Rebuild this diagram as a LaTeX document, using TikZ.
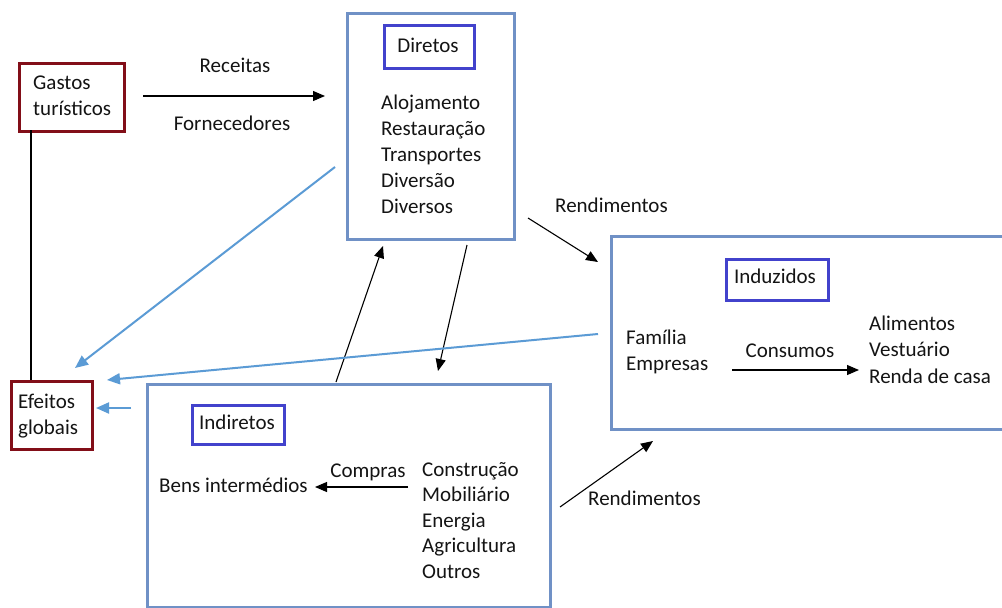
\documentclass[tikz,border=0pt]{standalone}
\usepackage{fontspec}
\setmainfont{Carlito}
\usetikzlibrary{arrows.meta}
\definecolor{boxblue}{RGB}{112,145,198}
\definecolor{titleblue}{RGB}{66,66,204}
\definecolor{darkred}{RGB}{130,14,24}
\definecolor{arrowblue}{RGB}{91,155,213}
\definecolor{txt}{RGB}{20,20,20}
\begin{document}
\begin{tikzpicture}[x=1pt,y=-1pt,
  every node/.style={font=\fontsize{21}{26}\selectfont, text=txt},
  bigbox/.style={draw=boxblue, line width=3.2pt, anchor=north west, inner sep=0pt},
  titlebox/.style={draw=titleblue, line width=3pt, anchor=north west, inner sep=0pt},
  redbox/.style={draw=darkred, line width=3.2pt, anchor=north west, inner sep=0pt},
  lbl/.style={inner sep=0pt, anchor=base west},
  clbl/.style={inner sep=0pt, anchor=base},
  blk/.style={draw=black, line width=1.1pt, -{Triangle[length=12pt,width=10pt]}},
  blu/.style={draw=arrowblue, line width=2pt, -{Triangle[length=13pt,width=11pt]}, arrowblue}]
\useasboundingbox (0,0) rectangle (1002,608);
\fill[white] (0,0) rectangle (1002,608);
\clip (0,0) rectangle (1002,608);

% boxes
\node[redbox, minimum width=105pt, minimum height=68pt] (gastos) at (18,62) {};
\node[redbox, minimum width=81pt, minimum height=68pt] (efeitos) at (10,380) {};
\node[bigbox, minimum width=167pt, minimum height=226pt] (diretos) at (346,12) {};
\node[titlebox, minimum width=90pt, minimum height=43pt] (tdiretos) at (383,24) {};
\node[bigbox, minimum width=420pt, minimum height=193pt] (induzidos) at (610,235) {};
\node[titlebox, minimum width=102pt, minimum height=41pt] (tinduzidos) at (725,258) {};
\node[bigbox, minimum width=403pt, minimum height=223pt] (indiretos) at (146,383) {};
\node[titlebox, minimum width=92pt, minimum height=39pt] (tindiretos) at (191,404) {};

% texts
\node[lbl] (g1) at (33,89) {Gastos};
\node[lbl] (g2) at (33,115) {turísticos};
\node[lbl] (e1) at (18,408) {Efeitos};
\node[lbl] (e2) at (18,434) {globais};
\node[clbl] (rec) at (235,72) {Receitas};
\node[clbl] (forn) at (232,130) {Fornecedores};
\node[clbl] (dtit) at (428,52) {Diretos};
\node[lbl] (d1) at (381,109) {Alojamento};
\node[lbl] (d2) at (381,135) {Restauração};
\node[lbl] (d3) at (381,161) {Transportes};
\node[lbl] (d4) at (381,187) {Diversão};
\node[lbl] (d5) at (381,213) {Diversos};
\node[lbl] (rend1) at (555,212) {Rendimentos};
\node[clbl] (itit) at (775,283) {Induzidos};
\node[lbl] (f1) at (626,344) {Família};
\node[lbl] (f2) at (626,370) {Empresas};
\node[clbl] (cons) at (790,357) {Consumos};
\node[lbl] (a1) at (869,330) {Alimentos};
\node[lbl] (a2) at (869,356.5) {Vestuário};
\node[lbl] (a3) at (869,383) {Renda de casa};
\node[clbl] (ntit) at (237,429) {Indiretos};
\node[lbl] (bens) at (159,492) {Bens intermédios};
\node[clbl] (comp) at (368,477) {Compras};
\node[lbl] (c1) at (422,476) {Construção};
\node[lbl] (c2) at (422,501.5) {Mobiliário};
\node[lbl] (c3) at (422,527) {Energia};
\node[lbl] (c4) at (422,552.5) {Agricultura};
\node[lbl] (c5) at (422,578) {Outros};
\node[lbl] (rend2) at (588,505) {Rendimentos};

% connector end points
\coordinate (recS) at (143,96);
\coordinate (recE) at (325,96);
\coordinate (gl) at (31,130);
\coordinate (el) at (31,380);
\coordinate (r1S) at (528,218);
\coordinate (r1E) at (598,262);
\coordinate (upS) at (336,382);
\coordinate (upE) at (383,246);
\coordinate (dnS) at (467,245);
\coordinate (dnE) at (438,371);
\coordinate (r2S) at (560,507);
\coordinate (r2E) at (653,441);
\coordinate (bS) at (408,487);
\coordinate (bE) at (315,487);
\coordinate (cS) at (732,370);
\coordinate (cE) at (859,370);
\coordinate (b1S) at (335,167);
\coordinate (b1E) at (75,368);
\coordinate (b2S) at (598,334);
\coordinate (b2E) at (107,380);
\coordinate (b3S) at (131,408);
\coordinate (b3E) at (96,408);

% connectors
\draw[black, line width=1.1pt] (gl) -- (el);
\draw[blk] (recS) -- (recE);
\draw[blk] (r1S) -- (r1E);
\draw[blk] (upS) -- (upE);
\draw[blk] (dnS) -- (dnE);
\draw[blk] (r2S) -- (r2E);
\draw[blk] (bS) -- (bE);
\draw[blk] (cS) -- (cE);
\draw[blu] (b1S) -- (b1E);
\draw[blu] (b2S) -- (b2E);
\draw[blu] (b3S) -- (b3E);
\end{tikzpicture}
\end{document}
